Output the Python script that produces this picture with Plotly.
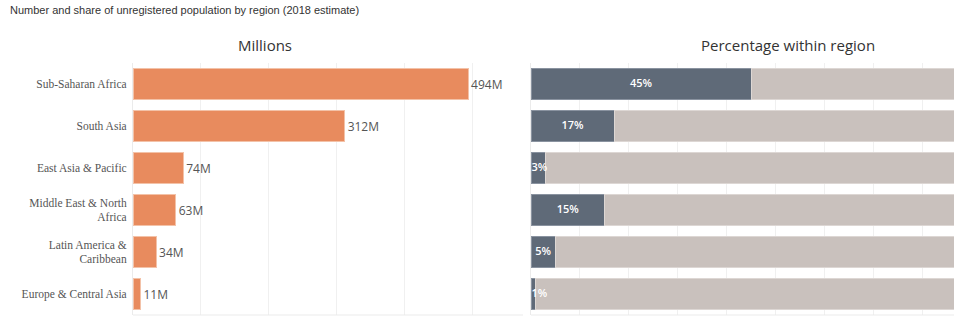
import plotly.graph_objects as go

regions = ["Sub-Saharan Africa", "South Asia", "East Asia & Pacific",
           "Middle East & North<br>Africa", "Latin America &<br>Caribbean",
           "Europe & Central Asia"]
millions = [494, 312, 74, 63, 34, 11]
shares = [0.45, 0.17, 0.03, 0.15, 0.05, 0.01]
value_labels = ["494M", "312M", "74M", "63M", "34M", "11M"]
share_labels = ["45%", "17%", "3%", "15%", "5%", "1%"]
remainder = [1 - s for s in shares]

W, H = 968, 332
def px_x(x): return x / W
def px_y(y): return 1 - y / H

ORANGE = "#E88B5E"
DARK = "#5F6A78"
GREY = "#C9C1BD"

fig = go.Figure()
fig.add_trace(go.Bar(
    x=millions, y=regions, orientation="h", xaxis="x", yaxis="y",
    marker=dict(color=ORANGE, line=dict(color="#F3C2A8", width=1)),
    text=value_labels, textposition="outside", cliponaxis=False,
    textfont=dict(family="Open Sans", size=12, color="#555555"),
    hoverinfo="skip", showlegend=False,
))
fig.add_trace(go.Bar(
    x=shares, y=regions, orientation="h", xaxis="x2", yaxis="y2",
    marker=dict(color=DARK, line=dict(color="#8A93A0", width=1)),
    hoverinfo="skip", showlegend=False,
))
fig.add_trace(go.Bar(
    x=remainder, y=regions, orientation="h", xaxis="x2", yaxis="y2",
    marker=dict(color=GREY, line=dict(color="#DDD7D4", width=1)),
    hoverinfo="skip", showlegend=False,
))
# labels centred in the dark bar, nudged so they stay inside the view
fig.add_trace(go.Scatter(
    x=[max(s / 2, 0.017) for s in shares], y=regions, xaxis="x2", yaxis="y2",
    mode="text", text=share_labels, cliponaxis=False,
    textfont=dict(family="Open Sans", size=11, color="white", weight=600),
    hoverinfo="skip", showlegend=False,
))

ydom = [px_y(315), px_y(63)]
fig.update_layout(
    width=W, height=H, margin=dict(l=0, r=0, t=0, b=0),
    paper_bgcolor="white", plot_bgcolor="white",
    barmode="stack", bargap=0.24,
    xaxis=dict(domain=[px_x(133), px_x(523)], range=[0, 575],
               tickvals=[100, 200, 300, 400, 500], showticklabels=False,
               showgrid=True, gridcolor="#F0F0F0", gridwidth=1,
               zeroline=False, showline=False, fixedrange=True),
    xaxis2=dict(domain=[px_x(531), px_x(954)], range=[0, 0.865],
                tickvals=[0.1, 0.2, 0.3, 0.4, 0.5, 0.6, 0.7, 0.8],
                showticklabels=False, showgrid=True, gridcolor="#F0F0F0",
                gridwidth=1, zeroline=False, showline=False, fixedrange=True),
    yaxis=dict(domain=ydom, categoryorder="array", categoryarray=regions,
               autorange="reversed", anchor="x",
               tickfont=dict(family="Liberation Serif", size=11.5, color="#555555"),
               ticks="", ticklabelstandoff=3, showgrid=False, zeroline=False,
               showline=True, linecolor="#EBEBEB", linewidth=1),
    yaxis2=dict(domain=ydom, categoryorder="array", categoryarray=regions,
                autorange="reversed", anchor="x2", showticklabels=False,
                ticks="", showgrid=False, zeroline=False,
                showline=True, linecolor="#EBEBEB", linewidth=1),
    shapes=[
        dict(type="line", xref="paper", yref="paper", x0=px_x(133), x1=px_x(523),
             y0=px_y(315), y1=px_y(315), line=dict(color="#EBEBEB", width=1)),
        dict(type="line", xref="paper", yref="paper", x0=px_x(531), x1=px_x(954),
             y0=px_y(315), y1=px_y(315), line=dict(color="#EBEBEB", width=1)),
    ],
    annotations=[
        dict(text="Number and share of unregistered population by region (2018 estimate)",
             xref="paper", yref="paper", x=px_x(8), y=px_y(10), xanchor="left",
             yanchor="middle", showarrow=False,
             font=dict(family="Liberation Sans", size=11, color="#333333")),
        dict(text="Millions", xref="paper", yref="paper", x=px_x(265), y=px_y(45),
             xanchor="center", yanchor="middle", showarrow=False,
             font=dict(family="Open Sans", size=15, color="#333333")),
        dict(text="Percentage within region", xref="paper", yref="paper",
             x=px_x(788), y=px_y(45), xanchor="center", yanchor="middle",
             showarrow=False,
             font=dict(family="Open Sans", size=15, color="#333333")),
    ],
)

fig.write_html("out.html")
